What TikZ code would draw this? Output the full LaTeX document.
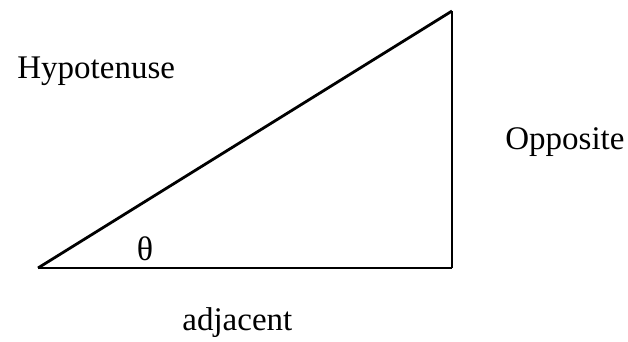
\documentclass[tikz,border=0pt]{standalone}
\usepackage{fontspec}
\setmainfont{Liberation Serif}
\usepackage{tikz}

\begin{document}
\begin{tikzpicture}[x=0.5pt, y=-0.5pt, font=\fontsize{16.5}{20}\selectfont]
			\useasboundingbox (0, 0) rectangle (628, 342);
			
			\coordinate (a) at (38, 268);
			\coordinate (b) at (452, 268);
			\coordinate (c) at (452, 11);
			
			\node[anchor=base west, inner sep=0pt] (hyp) at (17, 79) {Hypotenuse};
			\node[anchor=base west, inner sep=0pt] (opp) at (505, 150) {Opposite};
			\node[anchor=base west, inner sep=0pt] (adj) at (182, 331) {adjacent};
			\node[inner sep=0pt, font=\fontsize{17}{20}\selectfont] (theta) at (145, 249) {θ};
			
			\draw[line width=1.4pt] (a) -- (b);
			\draw[line width=1.4pt] (b) -- (c);
			\draw[line width=1.4pt] (c) -- (a);
		\end{tikzpicture}
\end{document}
